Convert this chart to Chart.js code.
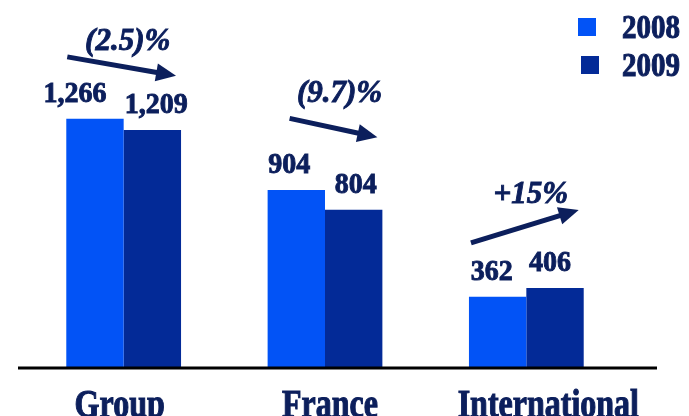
<!DOCTYPE html>
<html>
<head>
<meta charset="utf-8">
<script src="https://cdn.jsdelivr.net/npm/chart.js@4.4.1/dist/chart.umd.min.js"></script>
<style>
  html, body { margin: 0; padding: 0; background: #fff; }
  #wrap { width: 689px; height: 416px; position: relative; }
</style>
</head>
<body>
<div id="wrap"><canvas id="chart"></canvas></div>
<script>
// Revenue by segment, 2008 vs 2009
const categories = ['Group', 'France', 'International'];
const seriesNames = ['2008', '2009'];
const values2008 = [1266, 904, 362];
const values2009 = [1209, 804, 406];
const changes = ['(2.5)%', '(9.7)%', '+15%'];

const TEXT = '#0c1f5c';
const SERIF = '"Liberation Serif", "Times New Roman", serif';

function fmt(v) {
  return v.toLocaleString('en-US');
}

// heavy, slightly tall text like the original slide
function heavyText(ctx, str, x, y, sy) {
  ctx.save();
  ctx.translate(x, y);
  ctx.scale(1, sy || 1);
  ctx.lineWidth = 0.9;
  ctx.strokeStyle = TEXT;
  ctx.fillStyle = TEXT;
  ctx.fillText(str, 0, 0);
  ctx.strokeText(str, 0, 0);
  ctx.restore();
}

function drawArrow(ctx, x0, y0, x1, y1) {
  const ang = Math.atan2(y1 - y0, x1 - x0);
  const headLen = 20, headW = 9;
  const bx = x1 - headLen * Math.cos(ang), by = y1 - headLen * Math.sin(ang);
  ctx.strokeStyle = TEXT;
  ctx.fillStyle = TEXT;
  ctx.lineWidth = 5;
  ctx.beginPath();
  ctx.moveTo(x0, y0);
  ctx.lineTo(bx + 2 * Math.cos(ang), by + 2 * Math.sin(ang));
  ctx.stroke();
  ctx.beginPath();
  ctx.moveTo(x1, y1);
  ctx.lineTo(bx + headW * Math.sin(ang), by - headW * Math.cos(ang));
  ctx.lineTo(bx - headW * Math.sin(ang), by + headW * Math.cos(ang));
  ctx.closePath();
  ctx.fill();
}

const decorPlugin = {
  id: 'decor',
  afterDatasetsDraw(chart) {
    const ctx = chart.ctx;
    const yScale = chart.scales.y;
    const m0 = chart.getDatasetMeta(0).data;
    const m1 = chart.getDatasetMeta(1).data;
    const y0px = yScale.getPixelForValue(0);
    ctx.save();

    // baseline
    ctx.strokeStyle = '#000';
    ctx.lineWidth = 3;
    ctx.beginPath();
    ctx.moveTo(18, y0px);
    ctx.lineTo(657, y0px);
    ctx.stroke();

    // value labels (nudged apart as on the slide)
    ctx.font = 'bold 28px ' + SERIF;
    ctx.textAlign = 'center';
    ctx.textBaseline = 'alphabetic';
    const dx = [[-20, -7, -6], [4, 2, -5]];
    [m0, m1].forEach((bars, di) => {
      const vals = di === 0 ? values2008 : values2009;
      bars.forEach((b, i) => heavyText(ctx, fmt(vals[i]), b.x + dx[di][i], b.y - 17, 1.05));
    });

    // change arrows and percentages
    const lift = [58, 72, 66];
    const inset = [1, 22, 2];
    const gap = [7, 16, 7];
    categories.forEach((c, i) => {
      const a = m0[i], b = m1[i];
      const left = a.x - a.width / 2, right = b.x + b.width / 2;
      const mid = (a.y + b.y) / 2 - lift[i];
      const rise = values2009[i] < values2008[i] ? 19 : -33;
      const sx = left + inset[i], ex = right - 5;
      const sy = mid - rise / 2, ey = mid + rise / 2;
      drawArrow(ctx, sx, sy, ex, ey);
      ctx.font = 'italic bold 31px ' + SERIF;
      heavyText(ctx, changes[i], (sx + ex) / 2 + 6, Math.min(sy, ey) - gap[i], 1.0);
    });

    // category labels
    ctx.font = 'bold 32px ' + SERIF;
    const catShift = [-4, 5, 22];
    categories.forEach((c, i) => {
      const cx = (m0[i].x + m1[i].x) / 2 + catShift[i];
      heavyText(ctx, c, cx, 417, 1.22);
    });

    // legend
    ctx.font = 'bold 29px ' + SERIF;
    ctx.textAlign = 'left';
    chart.data.datasets.forEach((ds, i) => {
      const top = 18 + i * 38;
      ctx.fillStyle = ds.backgroundColor;
      ctx.fillRect(578 + i * 3, top, 18, 18);
      heavyText(ctx, ds.label, 622, top + 20, 1.15);
    });

    ctx.restore();
  }
};

new Chart(document.getElementById('chart'), {
  type: 'bar',
  data: {
    labels: categories,
    datasets: [
      { label: seriesNames[0], data: values2008, backgroundColor: '#0253f6' },
      { label: seriesNames[1], data: values2009, backgroundColor: '#032a97' },
    ],
  },
  options: {
    responsive: true,
    maintainAspectRatio: false,
    animation: false,
    layout: { padding: { left: 23, right: 62, top: 53, bottom: 48 } },
    datasets: { bar: { categoryPercentage: 0.57, barPercentage: 1.0, borderWidth: 0 } },
    plugins: { legend: { display: false }, tooltip: { enabled: false } },
    scales: {
      x: { display: false },
      y: { display: false, min: 0, max: 1600 },
    },
  },
  plugins: [decorPlugin],
});
</script>
</body>
</html>
